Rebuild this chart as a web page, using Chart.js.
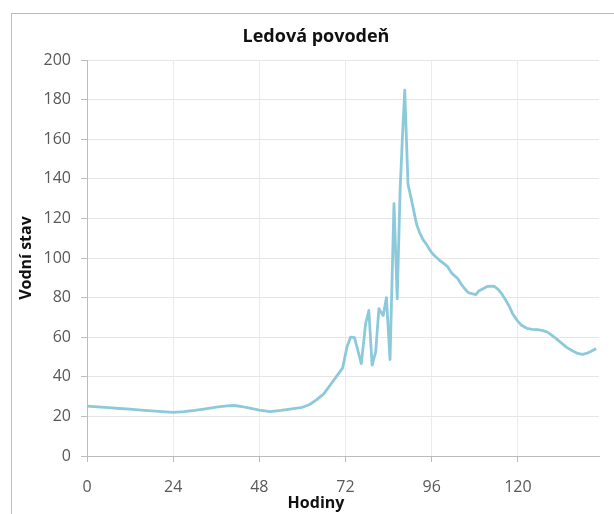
<!DOCTYPE html>
<html>
<head>
<meta charset="utf-8">
<script src="https://cdn.jsdelivr.net/npm/chart.js@4/dist/chart.umd.min.js"></script>
<style>
  html, body { margin: 0; padding: 0; background: #fff; }
  #wrap { width: 614px; height: 514px; position: relative; }
</style>
</head>
<body>
<div id="wrap"><canvas id="c" width="614" height="514"></canvas></div>
<script>
const chartTitle = 'Ledová povodeň';
const xTitle = 'Hodiny';
const yTitle = 'Vodní stav';
const xTickValues = [0, 24, 48, 72, 96, 120];
const hours = [0,3,6,9,12,15,18,21,24,27,30,33,36,39,41,43,45,48,51,54,57,60,62,64,66,68,70,71.2,72.4,73.4,74.5,76.4,77.6,78.5,79.4,80.4,81.3,82.5,83.4,84.4,85.5,86.4,87.2,87.8,88.5,89.4,90.3,91.1,91.8,92.6,93.5,94.5,95.5,96.3,97.2,98.4,99.5,100.5,101.5,102.4,103.3,104.3,105.2,106.2,107.2,108.3,109.2,110.3,111.3,112.5,113.5,114.5,115.5,116.5,117.5,118.5,119.8,121,122.5,124,125.5,127,128.3,129.4,130.5,132,133.5,135.3,136.7,138,139.4,140.6,141.8];
const levels = [25.2,24.8,24.4,24.0,23.7,23.2,22.8,22.4,22.0,22.4,23.0,23.8,24.7,25.3,25.5,25.0,24.3,23.2,22.4,23.0,23.8,24.6,26.0,28.5,31.5,36.5,41.5,44.5,55,60,59.8,46.7,66.9,73.5,45.9,52.6,74.4,71,80,48.7,127.5,79.4,133.9,159,184.8,137.3,130,123,117,113,109.5,107,104,102,100.5,98.5,97,95.5,92.5,91,89.5,86.5,84.5,82.5,82,81.5,83.5,84.5,85.5,85.8,85.6,84.2,82,79,76,72,68.5,66,64.5,64,63.8,63.3,62.5,61,59.5,57.3,55,53,51.8,51.3,52,53,54.3];

const points = hours.map((h, i) => ({ x: h, y: levels[i] }));

const framePlugin = {
  id: 'frame',
  beforeDraw(chart) {
    const ctx = chart.ctx;
    ctx.save();
    ctx.fillStyle = '#ffffff';
    ctx.fillRect(0, 0, chart.width, chart.height);
    ctx.strokeStyle = '#bcbcbc';
    ctx.lineWidth = 1;
    ctx.strokeRect(11.5, 13.5, 700, 700);
    ctx.restore();
  }
};

const FONT = "'Open Sans', 'Liberation Sans', sans-serif";

new Chart(document.getElementById('c'), {
  type: 'line',
  data: {
    datasets: [{
      data: points,
      borderColor: '#8ccadb',
      borderWidth: 2.8,
      pointRadius: 0,
      tension: 0,
      borderJoinStyle: 'round',
      fill: false
    }]
  },
  options: {
    responsive: false,
    animation: false,
    devicePixelRatio: 1,
    layout: { padding: { left: 18, right: 0, top: 0, bottom: 0 } },
    plugins: {
      legend: { display: false },
      tooltip: { enabled: false },
      title: {
        display: true,
        text: chartTitle,
        color: '#111',
        font: { family: FONT, size: 18, weight: 'bold' },
        padding: { top: 26, bottom: 12.4 }
      },
      subtitle: {
        display: true,
        position: 'bottom',
        text: xTitle,
        color: '#111',
        font: { family: FONT, size: 16, weight: 'bold' },
        padding: { top: 0, bottom: 1 }
      }
    },
    scales: {
      x: {
        type: 'linear',
        min: 0,
        max: 142.6,
        afterBuildTicks(scale) { scale.ticks = xTickValues.map(v => ({ value: v })); },
        afterFit(scale) { scale.height = 37.8; },
        grid: { color: '#ebebeb', tickColor: '#bcbcbc', tickLength: 6 },
        border: { color: '#bcbcbc' },
        ticks: { color: '#595959', font: { family: FONT, size: 16 }, padding: 16, maxRotation: 0, autoSkip: false }
      },
      y: {
        min: 0,
        max: 200,
        afterFit(scale) { scale.width = 69; },
        grid: { color: '#e6e6e6', tickColor: '#bcbcbc', tickLength: 6 },
        border: { color: '#bcbcbc' },
        ticks: { stepSize: 20, color: '#595959', font: { family: FONT, size: 16 }, padding: 10 },
        title: {
          display: true,
          text: yTitle,
          color: '#111',
          font: { family: FONT, size: 16, weight: 'bold', lineHeight: 1 },
          padding: { top: 0, bottom: 0 }
        }
      },
      yR: {
        position: 'right',
        display: true,
        afterFit(scale) { scale.width = 15; },
        grid: { display: false },
        border: { display: false },
        ticks: { display: false }
      }
    }
  },
  plugins: [framePlugin]
});
</script>
</body>
</html>
